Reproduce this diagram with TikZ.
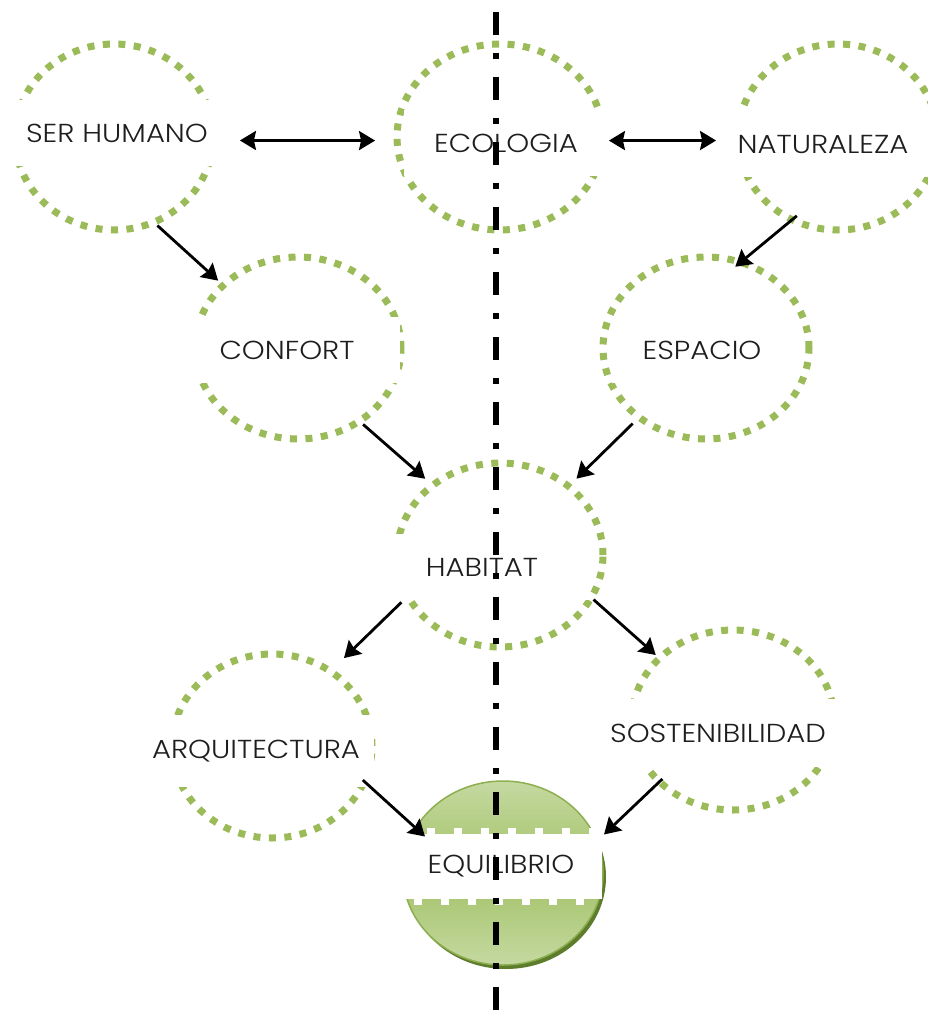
\documentclass[tikz,border=0pt]{standalone}
\usepackage{fontspec}
\setmainfont{Poppins Light}[FakeStretch=1.12]
\usetikzlibrary{shapes.geometric,arrows.meta,calc}
\definecolor{ringgreen}{HTML}{9BBB59}
\definecolor{shadowgreen}{HTML}{5E7D2C}
\definecolor{edgegreen}{HTML}{8DAF4F}
\definecolor{lightgreen}{HTML}{C5D9A1}
\definecolor{midgreen}{HTML}{A2C166}
\definecolor{inkgray}{HTML}{1E1E1E}
\tikzset{
  ring/.style={ellipse, draw=ringgreen, line width=7pt, dash pattern=on 7pt off 8.5pt, inner sep=0pt, outer sep=0pt},
  lbl/.style={rectangle, fill=white, inner sep=0pt, outer sep=0pt, minimum height=66pt, text=inkgray, font=\fontsize{26}{30}\selectfont},
  tip/.tip={Stealth[length=16pt,width=19pt,inset=2pt]},
  conn/.style={line width=2.8pt, black, -tip},
  bothconn/.style={line width=2.8pt, black, tip-tip},
  axisline/.style={line width=6pt, black, dash pattern=on 23pt off 18pt on 6pt off 18pt, dash phase=53pt}
}
\begin{document}
\begin{tikzpicture}[x=1pt,y=-1pt]
\useasboundingbox (0,0) rectangle (927,1023);
% dashed rings
\node[ring, minimum width=198pt, minimum height=186pt] (ser) at (114,137) {};
\node[ring, minimum width=206pt, minimum height=186pt] (eco) at (500,137) {};
\node[ring, minimum width=200pt, minimum height=186pt] (nat) at (838,137) {};
\node[ring, minimum width=206pt, minimum height=182pt] (con) at (298,348) {};
\node[ring, minimum width=206pt, minimum height=182pt] (esp) at (706,348) {};
\node[ring, minimum width=206pt, minimum height=184pt] (hab) at (500,555) {};
\node[ring, minimum width=200pt, minimum height=184pt] (arq) at (272,746) {};
\node[ring, minimum width=202pt, minimum height=180pt] (sos) at (733,720) {};
% equilibrio disc
\node[ellipse, fill=shadowgreen, minimum width=200pt, minimum height=184pt, inner sep=0pt] (equS) at (506,877) {};
\node[ellipse, draw=edgegreen, line width=1.5pt, top color=lightgreen, bottom color=lightgreen, middle color=midgreen, minimum width=200pt, minimum height=184pt, inner sep=0pt] (equ) at (503,873) {};
% labels
\node[lbl, minimum width=226pt] (serT) at (117,133) {SER HUMANO};
\node[lbl, minimum width=204pt] (ecoT) at (506,143) {ECOLOGIA};
\node[lbl, minimum width=214pt] (natT) at (823,144) {NATURALEZA};
\node[lbl, minimum width=226pt] (conT) at (287,350) {CONFORT};
\node[lbl, minimum width=180pt] (espT) at (702,350) {ESPACIO};
\node[lbl, minimum width=214pt] (habT) at (482,567) {HABITAT};
\node[lbl, minimum width=236pt, minimum height=72pt] (arqT) at (256,751) {ARQUITECTURA};
\node[lbl, minimum width=240pt, minimum height=68pt] (sosT) at (718,733) {SOSTENIBILIDAD};
\node[lbl, minimum width=202pt, minimum height=65pt] (equT) at (501,866) {EQUILIBRIO};
\draw[white, line width=6pt, dash pattern=on 8pt off 19pt] (equT.north west) ++(0,-3) -- ($(equT.north east)+(0,-3)$);
\draw[white, line width=6pt, dash pattern=on 8pt off 19pt, dash phase=13pt] (equT.south west) ++(0,3) -- ($(equT.south east)+(0,3)$);
% connectors
\draw[bothconn, shorten <=27pt, shorten >=22pt] (ser.-2) -- (eco.182);
\draw[bothconn, shorten <=6pt, shorten >=22pt] (eco.-2) -- (nat.182);
\draw[conn, shorten <=5pt, shorten >=7pt] (ser.-65.5) -- (con.140);
\draw[conn, shorten <=-6pt, shorten >=-7pt] (nat.241.7) -- (esp.68.6);
\draw[conn, shorten <=5pt, shorten >=10pt] (con.-50.3) -- (hab.134.2);
\draw[conn, shorten <=9pt, shorten >=11pt] (esp.226.9) -- (hab.45.4);
\draw[conn, shorten <=9pt, shorten >=19pt] (hab.204.7) -- (arq.52.8);
\draw[conn, shorten <=3pt, shorten >=5pt] (hab.-25.8) -- (sos.140.2);
\draw[conn, shorten <=-2pt] (arq.-21.8) -- ($(equT.north west)+(25,3)$);
\draw[conn, shorten <=-4pt] (sos.220.6) -- ($(equT.north east)+(2,1)$);
% centre axis
\coordinate (axisTop) at (496,0);
\coordinate (axisBot) at (496,1023);
\draw[axisline] (axisTop) -- (axisBot);
\end{tikzpicture}
\end{document}
